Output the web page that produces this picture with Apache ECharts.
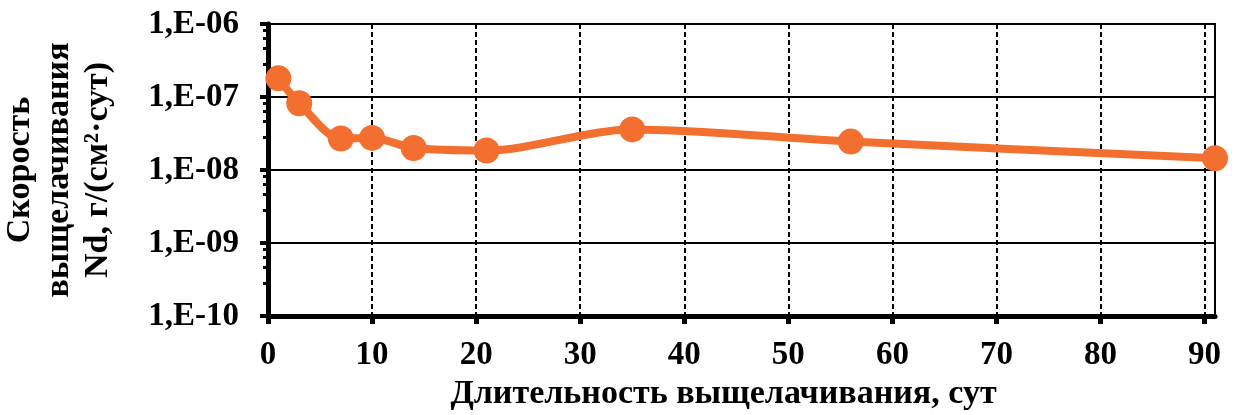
<!DOCTYPE html>
<html>
<head>
<meta charset="utf-8">
<script src="https://cdn.jsdelivr.net/npm/echarts@6/dist/echarts.min.js"></script>
<style>
  html, body { margin: 0; padding: 0; background: #fff; }
  #chart { width: 1239px; height: 415px; }
</style>
</head>
<body>
<div id="chart"></div>
<script>
// days of leaching
const days = [1, 3, 7, 10, 14, 21, 35, 56, 91];
// Nd leaching rate, g/(cm2*day)
const rate = [1.8e-7, 8.2e-8, 2.7e-8, 2.75e-8, 2.0e-8, 1.85e-8, 3.6e-8, 2.45e-8, 1.45e-8];

const xTicks = [0, 10, 20, 30, 40, 50, 60, 70, 80, 90];
const yTickLabels = ["1,E-10", "1,E-09", "1,E-08", "1,E-07", "1,E-06"];

const font = "Liberation Serif";

const chart = echarts.init(document.getElementById("chart"));

const option = {
  animation: false,
  grid: {
    left: 268,
    right: 24,
    top: 24,
    bottom: 99,
    outerBoundsMode: "none",
    containLabel: false,
    show: true,
    borderColor: "#000",
    borderWidth: 2,
  },
  xAxis: {
    type: "value",
    min: 0,
    max: 91,
    name: "Длительность выщелачивания, сут",
    nameLocation: "middle",
    nameGap: 60,
    nameTextStyle: {
      fontFamily: font,
      fontWeight: "bold",
      fontSize: 34,
      color: "#000",
      padding: [0, 36, 0, 0],
    },
    axisLine: { lineStyle: { color: "#000", width: 5 } },
    axisTick: {
      customValues: xTicks,
      length: 8,
      lineStyle: { color: "#000", width: 5 },
    },
    axisLabel: {
      customValues: xTicks,
      margin: 23,
      fontFamily: font,
      fontWeight: "bold",
      fontSize: 33,
      color: "#000",
    },
    splitLine: {
      show: true,
      lineStyle: { color: "#000", width: 2, type: [5, 3] },
    },
  },
  yAxis: {
    type: "log",
    logBase: 10,
    min: 1e-10,
    max: 1e-6,
    name: "Скорость\nвыщелачивания\nNd, г/(см²·сут)",
    nameLocation: "middle",
    nameRotate: 90,
    nameGap: 150,
    nameTextStyle: {
      fontFamily: font,
      fontWeight: "bold",
      fontSize: 34,
      lineHeight: 39,
      color: "#000",
    },
    axisLine: { show: true, lineStyle: { color: "#000", width: 5 } },
    axisTick: {
      show: true,
      length: 8,
      lineStyle: { color: "#000", width: 4 },
    },
    minorTick: {
      show: true,
      splitNumber: 5,
      length: 5,
      lineStyle: { color: "#000", width: 3 },
    },
    axisLabel: {
      margin: 29,
      fontFamily: font,
      fontWeight: "bold",
      fontSize: 33,
      color: "#000",
      formatter: (v) => {
        const i = Math.round(Math.log10(v)) + 10;
        return yTickLabels[i] || "";
      },
    },
    splitLine: {
      show: true,
      lineStyle: { color: "#000", width: 2 },
    },
  },
  series: [
    {
      type: "line",
      data: days.map((d, i) => [d, rate[i]]),
      smooth: 0.3,
      symbol: "circle",
      symbolSize: 26,
      itemStyle: { color: "#f26f30" },
      lineStyle: { color: "#f26f30", width: 8 },
      clip: false,
    },
  ],
};

chart.setOption(option);
</script>
</body>
</html>
